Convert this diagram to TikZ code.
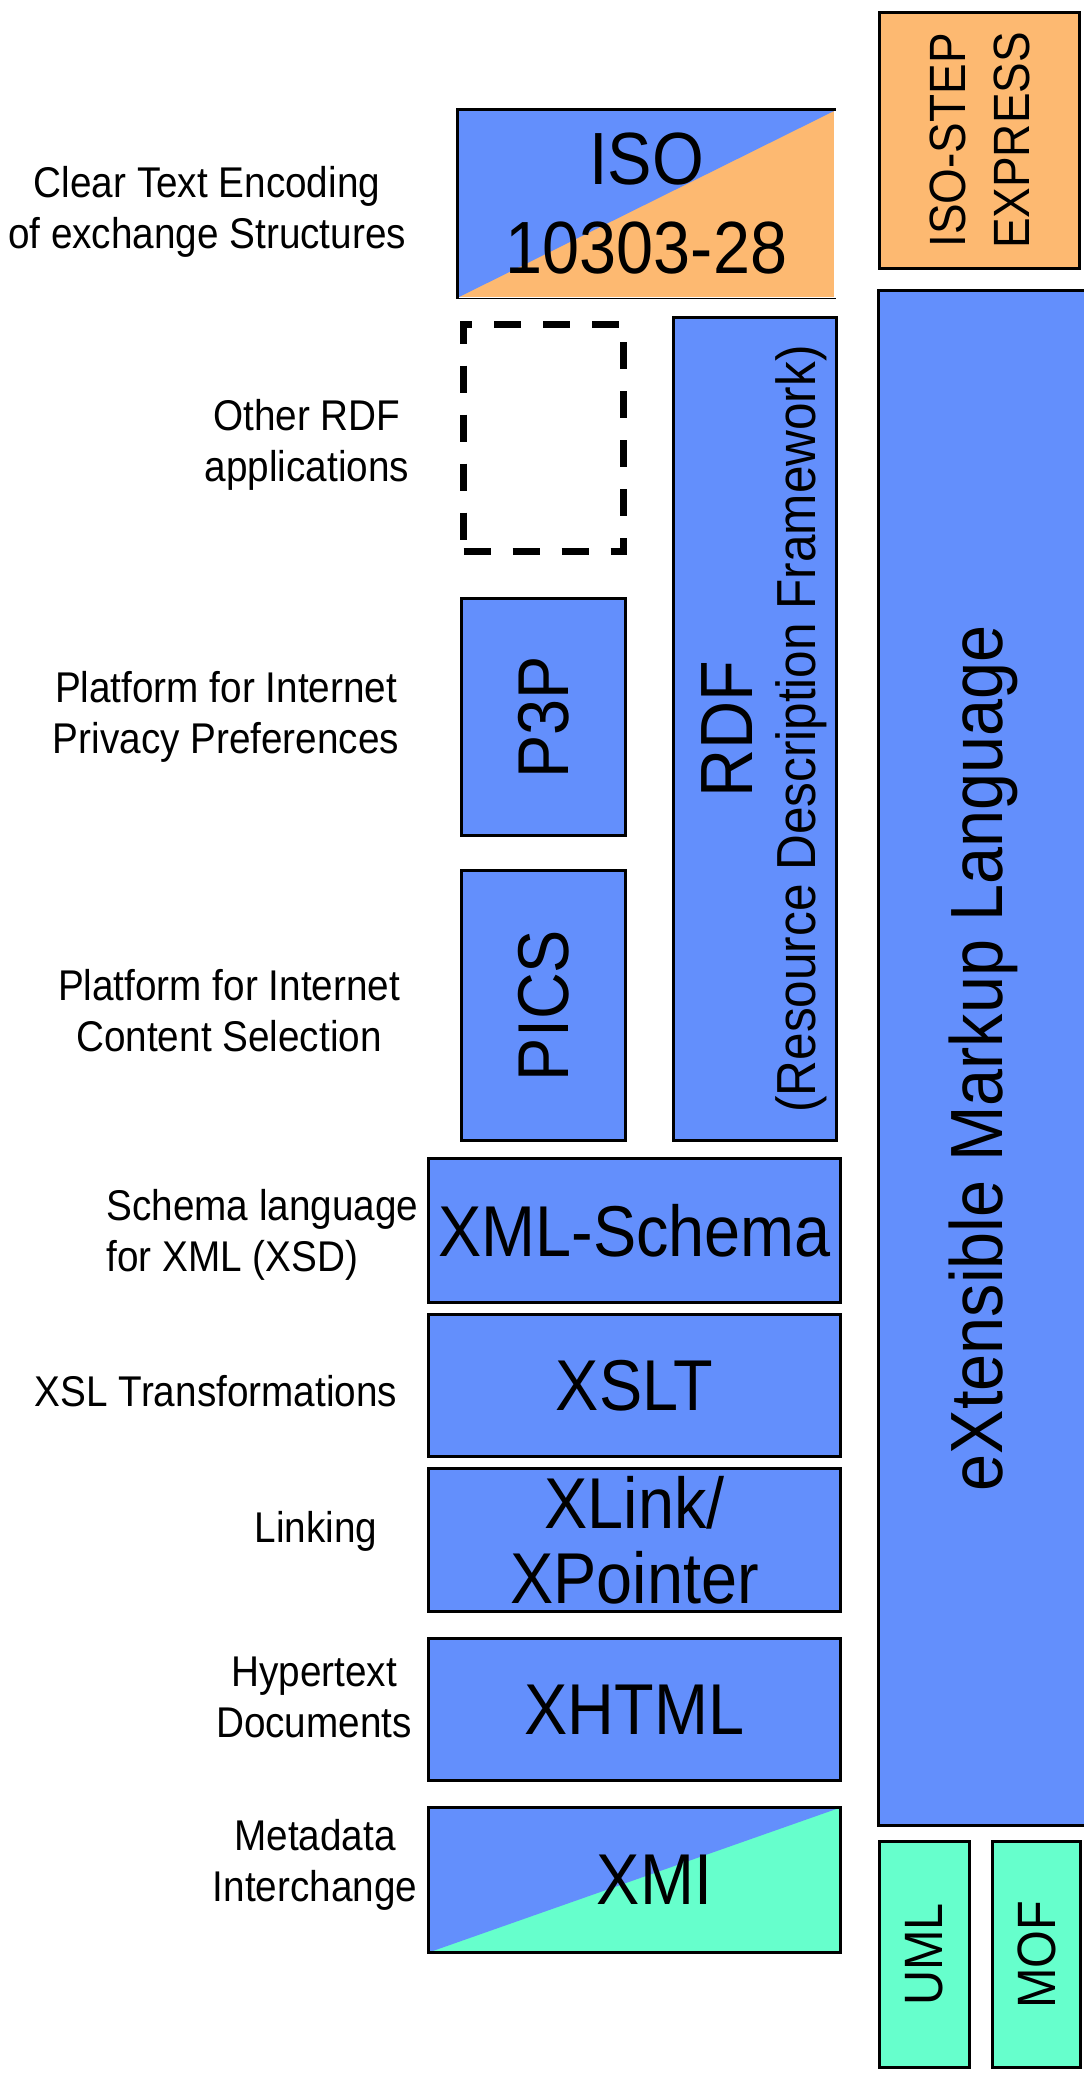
\documentclass[tikz,border=0pt]{standalone}
\usepackage{fontspec}
\setmainfont{Liberation Sans}[FakeStretch=0.9]
\usepackage{xcolor}
\definecolor{xblue}{RGB}{99,143,252}
\definecolor{xorange}{RGB}{253,185,113}
\definecolor{xmint}{RGB}{102,255,204}
\tikzset{
    box/.style = {draw, line width=3pt, fill=xblue, inner sep=0pt, align=center,
                  font=\fontsize{72}{76}\selectfont},
    note/.style = {align=center, font=\fontsize{43}{51}\selectfont},
    halfblue/.style = {path picture={\fill[xblue] (path picture bounding box.north west)
        -- (path picture bounding box.north east) -- (path picture bounding box.south west) -- cycle;}}
}

\begin{document}
\begin{tikzpicture}[x=1pt, y=-1pt]
    \useasboundingbox (0,0) rectangle (1084,2073);

    \node (iso) [box, draw=none, fill=xorange, halfblue, minimum width=375pt, minimum height=186pt,
        font=\fontsize{74}{89}\selectfont] at (646.5,204) {ISO\\10303-28};
    \draw [line width=3pt] (iso.south west) |- (iso.north east);
    \draw [thin] (iso.south west) -- (iso.south east);
    \node (step) [box, fill=xorange, rotate=90, minimum width=256pt, minimum height=200pt,
        font=\fontsize{51}{64}\selectfont] at (979.5,140.5) {ISO-STEP\\EXPRESS};
    \node (xml) [box, rotate=90, minimum width=1535pt, minimum height=210pt,
        font=\fontsize{74}{80}\selectfont] at (983.5,1058) {eXtensible Markup Language};

    \node (other) [draw, line width=7pt, dash pattern=on 27pt off 22pt,
        minimum width=160pt, minimum height=227pt] at (543.5,438) {};
    \node (rdf) [box, rotate=90, minimum width=823pt, minimum height=163pt] at (755,729) {};
    \node (rdflbl) [rotate=90, inner sep=0pt, align=center, font=\fontsize{55}{63}\selectfont]
        at (764,729) {{\fontsize{74}{63}\selectfont RDF}\\(Resource Description Framework)};
    \node (p3p) [box, rotate=90, minimum width=237pt, minimum height=164pt] at (543.5,717) {P3P};
    \node (pics) [box, rotate=90, minimum width=270pt, minimum height=164pt] at (543.5,1005.5) {PICS};

    \node (schema) [box, minimum width=412pt, minimum height=144pt] at (634.5,1230.5) {XML-Schema};
    \node (xslt) [box, minimum width=412pt, minimum height=142pt] at (634.5,1385.5) {XSLT};
    \node (xlink) [box, minimum width=412pt, minimum height=143pt,
        font=\fontsize{72}{75}\selectfont] at (634.5,1540) {XLink/\\XPointer};
    \node (xhtml) [box, minimum width=412pt, minimum height=142pt] at (634.5,1709.5) {XHTML};
    \node (xmi) [box, fill=xmint, halfblue, minimum width=412pt, minimum height=145pt]
        at (634.5,1880) {\hspace*{40pt}XMI};

    \node (uml) [box, fill=xmint, rotate=90, minimum width=226pt, minimum height=90pt,
        font=\fontsize{54}{58}\selectfont] at (924.5,1954.5) {UML};
    \node (mof) [box, fill=xmint, rotate=90, minimum width=226pt, minimum height=88pt,
        font=\fontsize{54}{58}\selectfont] at (1036.5,1954.5) {MOF};

    \node (isonote) [note] at (207,212) {Clear Text Encoding\\of exchange Structures};
    \node (othernote) [note] at (307,445) {Other RDF\\applications};
    \node (p3pnote) [note] at (226,717) {Platform for Internet\\Privacy Preferences};
    \node (picsnote) [note] at (229,1011) {Platform for Internet\\Content Selection};
    \node (schemanote) [note, align=left, anchor=west] at (103,1235) {Schema language\\for XML (XSD)};
    \node (xsltnote) [note] at (216,1391) {XSL Transformations};
    \node (xlinknote) [note] at (316,1531) {Linking};
    \node (xhtmlnote) [note] at (314,1697) {Hypertext\\Documents};
    \node (xminote) [note] at (315,1865) {Metadata\\Interchange};
\end{tikzpicture}
\end{document}
